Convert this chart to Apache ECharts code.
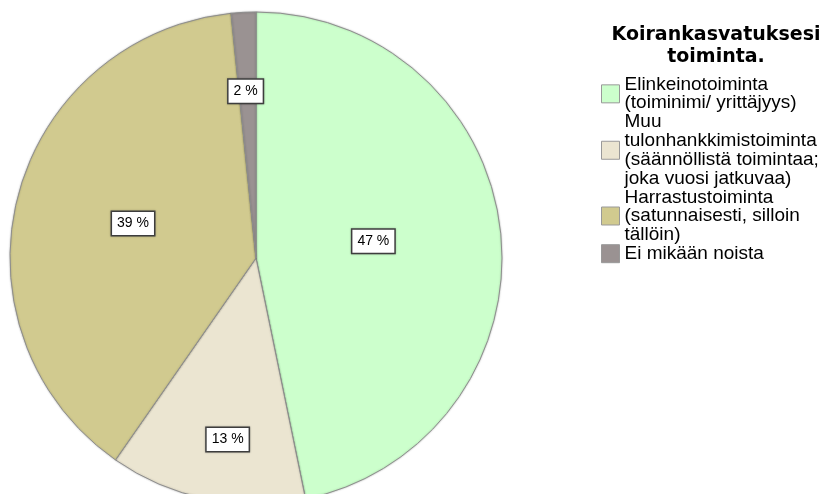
<!DOCTYPE html>
<html>
<head>
<meta charset="utf-8">
<script src="https://cdn.jsdelivr.net/npm/echarts@6/dist/echarts.min.js"></script>
<style>
  html, body { margin: 0; padding: 0; background: #fff; }
  #main { width: 826px; height: 494px; }
</style>
</head>
<body>
<div id="main"></div>
<script>
// data (counts giving 47 / 13 / 39 / 2 %)
var categories = [
  'Elinkeinotoiminta\n(toiminimi/ yrittäjyys)',
  'Muu\ntulonhankkimistoiminta\n(säännöllistä toimintaa;\njoka vuosi jatkuvaa)',
  'Harrastustoiminta\n(satunnaisesti, silloin\ntällöin)',
  'Ei mikään noista'
]
var counts = [29, 8, 24, 1]
var colors = ['#ccffcc', '#ebe5d1', '#d1ca8f', '#9a9292']

// label nudges so the boxes sit where the original puts them
var labelShift = [[-8, -4], [-3, 58], [-1, -3], [-4, -41]]

var total = 0
for (let i in counts) total += counts[i]

var chart = echarts.init(document.getElementById('main'))

chart.setOption({
  animation: false,
  title: {
    text: 'Koirankasvatuksesi\ntoiminta.',
    left: 711,
    top: 19,
    textAlign: 'center',
    textStyle: {
      fontFamily: 'DejaVu Sans',
      fontWeight: 'bold',
      fontSize: 19,
      lineHeight: 22,
      color: '#000'
    }
  },
  legend: {
    orient: 'vertical',
    left: 601,
    top: 75,
    padding: 0,
    itemWidth: 18,
    itemHeight: 18,
    itemGap: 0,
    icon: 'rect',
    itemStyle: { borderColor: '#999', borderWidth: 1 },
    textStyle: {
      fontFamily: 'Liberation Sans',
      fontSize: 19,
      lineHeight: 18.7,
      color: '#000'
    },
    data: categories
  },
  series: [
    {
      name: 'toiminta',
      type: 'pie',
      center: [256, 258],
      radius: 246,
      startAngle: 90,
      clockwise: true,
      itemStyle: {
        borderColor: '#8e8e8e',
        borderWidth: 1,
        shadowColor: 'rgba(0,0,0,0.25)',
        shadowBlur: 2
      },
      label: {
        show: true,
        position: 'inside',
        formatter: function (p) {
          return Math.round(p.value / total * 100) + ' %'
        },
        fontFamily: 'Liberation Sans',
        fontSize: 14,
        color: '#000',
        backgroundColor: '#fff',
        borderColor: '#444',
        borderWidth: 1.5,
        padding: [5, 5, 4, 5],
        shadowColor: 'rgba(0,0,0,0.3)',
        shadowBlur: 2
      },
      labelLine: { show: false },
      labelLayout: function (params) {
        var s = labelShift[params.dataIndex]
        return { dx: s[0], dy: s[1] }
      },
      emphasis: { disabled: true },
      data: categories.map(function (c, i) {
        return { name: c, value: counts[i], itemStyle: { color: colors[i] } }
      })
    }
  ]
})
</script>
</body>
</html>
